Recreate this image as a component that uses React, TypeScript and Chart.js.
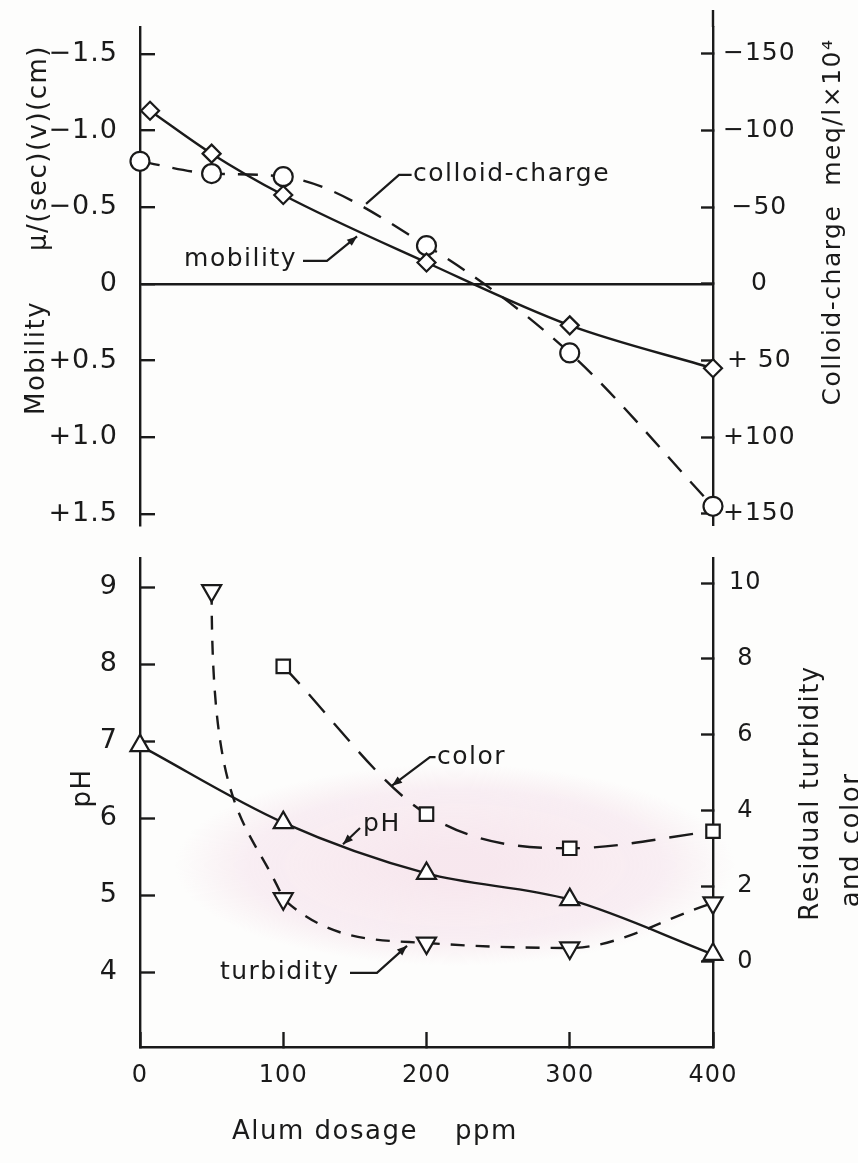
import React, { useEffect, useRef } from 'react';
import { Chart, registerables } from 'chart.js';

Chart.register(...registerables);

// ---------- data ----------
const mobilityDosage = [7, 50, 100, 200, 300, 400];
const mobilityValues = [-1.13, -0.85, -0.58, -0.14, 0.27, 0.55];
const chargeDosage = [0, 50, 100, 200, 300, 400];
const chargeValues = [-80, -72, -70, -25, 45, 145];

const phDosage = [0, 100, 200, 300, 400];
const phValues = [6.94, 5.94, 5.28, 4.94, 4.23];
const turbidityDosage = [50, 100, 200, 300, 400];
const turbidityValues = [9.8, 1.67, 0.5, 0.37, 1.56];
const colorDosage = [100, 200, 300, 400];
const colorValues = [7.8, 3.9, 3.0, 3.45];

const dosageTicks = [0, 100, 200, 300, 400];
const mobilityTicks = [-1.5, -1.0, -0.5, 0, 0.5, 1.0, 1.5];
const chargeTicks = [-150, -100, -50, 0, 50, 100, 150];
const phTicks = [4, 5, 6, 7, 8, 9];
const residualTicks = [0, 2, 4, 6, 8, 10];

// ---------- style ----------
const INK = '#1a1a1a';
const FONT = "'DejaVu Sans', 'Noto Sans', sans-serif";
const W = 858;
const TOP_H = 540;
const BOT_H = 623;
const LEFT_W = 140;
const RIGHT_W = 145;
const LW = 2.4;

const pts = (xs: number[], ys: number[]) => xs.map((x, i) => ({ x, y: ys[i] }));

const fmtMob = (v: number) => (v === 0 ? '0' : (v < 0 ? '\u2212' : '+') + Math.abs(v).toFixed(1));
const fmtCharge = (v: number) =>
  v === 0 ? '0' : v < 0 ? '\u2212' + Math.abs(v) : (v < 100 ? '+ ' : '+') + v;

type Note = {
  text: string;
  at: [number, number];
  align: 'left' | 'right';
  path: [number, number][];
  arrow: boolean;
};

// annotation anchors in data units (x: ppm, y: value on the panel's left scale)
const topNotes: Note[] = [
  { text: 'colloid-charge', at: [190.6, -0.711], align: 'left', path: [[189.6, -0.711], [180.8, -0.711], [157.8, -0.522]], arrow: false },
  { text: 'mobility', at: [109.6, -0.157], align: 'right', path: [[113.8, -0.15], [130.5, -0.15], [151.5, -0.31]], arrow: true },
];
const bottomNotes: Note[] = [
  { text: 'color', at: [207.3, 6.79], align: 'left', path: [[206.3, 6.79], [202.4, 6.79], [175.9, 6.42]], arrow: true },
  { text: 'pH', at: [155.7, 5.91], align: 'left', path: [[153.6, 5.87], [141.7, 5.66]], arrow: true },
  { text: 'turbidity', at: [55.8, 3.99], align: 'left', path: [[146.6, 3.99], [165.4, 3.99], [186.4, 4.34]], arrow: true },
];

function drawNotes(chart: any, yId: string, notes: Note[]) {
  const ctx = chart.ctx;
  const xs = chart.scales.x;
  const ys = chart.scales[yId];
  ctx.save();
  ctx.strokeStyle = INK;
  ctx.fillStyle = INK;
  ctx.lineWidth = 2.2;
  ctx.setLineDash([]);
  ctx.font = `25px ${FONT}`;
  ctx.letterSpacing = '1.5px';
  notes.forEach((n) => {
    const tx = xs.getPixelForValue(n.at[0]);
    const ty = ys.getPixelForValue(n.at[1]);
    ctx.textAlign = n.align;
    ctx.textBaseline = 'middle';
    ctx.fillText(n.text, tx, ty);
    const p = n.path.map(([a, b]) => [xs.getPixelForValue(a), ys.getPixelForValue(b)]);
    ctx.beginPath();
    p.forEach(([a, b], i) => (i ? ctx.lineTo(a, b) : ctx.moveTo(a, b)));
    ctx.stroke();
    if (n.arrow) {
      const [x1, y1] = p[p.length - 2];
      const [x2, y2] = p[p.length - 1];
      const ang = Math.atan2(y2 - y1, x2 - x1);
      const L = 10;
      const hw = 4;
      ctx.beginPath();
      ctx.moveTo(x2, y2);
      ctx.lineTo(x2 - L * Math.cos(ang) + hw * Math.sin(ang), y2 - L * Math.sin(ang) - hw * Math.cos(ang));
      ctx.lineTo(x2 - L * Math.cos(ang) - hw * Math.sin(ang), y2 - L * Math.sin(ang) + hw * Math.cos(ang));
      ctx.closePath();
      ctx.fill();
    }
  });
  ctx.restore();
}

function drawRotated(ctx: any, text: string, x: number, y: number, size: number) {
  ctx.save();
  ctx.translate(x, y);
  ctx.rotate(-Math.PI / 2);
  ctx.textAlign = 'center';
  ctx.textBaseline = 'alphabetic';
  ctx.font = `${size}px ${FONT}`;
  ctx.letterSpacing = '1.5px';
  ctx.fillStyle = INK;
  ctx.fillText(text, 0, 0);
  ctx.restore();
}

const spacingPlugin = {
  id: 'spacing',
  beforeDraw(chart: any) {
    chart.ctx.letterSpacing = '1px';
  },
  afterDraw(chart: any) {
    chart.ctx.letterSpacing = '0px';
  },
};

// hand-drawn look of the turbidity curve: leaves the first point vertically
const handCurvePlugin = {
  id: 'handCurve',
  beforeDatasetsDraw(chart: any) {
    const meta = chart.getDatasetMeta(1);
    const line = meta && meta.dataset;
    if (!line || !meta.data || meta.data.length < 2) return;
    line.updateControlPoints(chart.chartArea, 'x');
    const a = meta.data[0];
    const b = meta.data[1];
    const dx = b.x - a.x;
    const dy = b.y - a.y;
    a.cp2x = a.x;
    a.cp2y = a.y + 0.75 * dy;
    b.cp1x = b.x - 0.47 * dx;
    b.cp1y = b.y - 0.25 * dy;
    line._path = undefined;
  },
};

const yAxisBase = (width: number) => ({
  afterFit: (s: any) => {
    s.width = width;
    s.paddingTop = 0;
    s.paddingBottom = 0;
  },
  border: { display: true, color: INK, width: LW },
});

const marker = (style: string, radius: number, extra: any = {}) => ({
  pointStyle: style,
  pointRadius: radius,
  pointBorderWidth: 2.2,
  pointBackgroundColor: '#ffffff',
  pointBorderColor: INK,
  borderColor: INK,
  borderWidth: LW,
  clip: false,
  ...extra,
});

function topConfig(): any {
  return {
    type: 'line',
    data: {
      datasets: [
        {
          label: 'mobility',
          data: pts(mobilityDosage, mobilityValues),
          yAxisID: 'yMob',
          cubicInterpolationMode: 'monotone',
          ...marker('rectRot', 9),
        },
        {
          label: 'colloid-charge',
          data: pts(chargeDosage, chargeValues),
          yAxisID: 'yCol',
          borderDash: [20, 13],
          cubicInterpolationMode: 'monotone',
          ...marker('circle', 9.5),
        },
      ],
    },
    options: {
      responsive: false,
      animation: false,
      devicePixelRatio: 1,
      layout: { padding: { top: 27, bottom: 15, left: 0, right: 0 } },
      plugins: { legend: { display: false }, tooltip: { enabled: false } },
      scales: {
        x: { type: 'linear', min: 0, max: 400, display: false },
        yMob: {
          ...yAxisBase(LEFT_W),
          type: 'linear',
          position: 'left',
          reverse: true,
          min: -1.676,
          max: 1.572,
          afterBuildTicks: (s: any) => {
            s.ticks = mobilityTicks.map((v) => ({ value: v }));
          },
          grid: {
            drawOnChartArea: true,
            color: (c: any) => (c.tick && c.tick.value === 0 ? INK : 'rgba(0,0,0,0)'),
            lineWidth: LW,
            tickLength: -15,
            tickColor: INK,
            tickWidth: LW,
          },
          ticks: {
            padding: 37,
            color: INK,
            font: { family: FONT, size: 27 },
            callback: (v: any) => fmtMob(Number(v)),
          },
        },
        yCol: {
          ...yAxisBase(RIGHT_W),
          type: 'linear',
          position: 'right',
          reverse: true,
          min: -167.6,
          max: 157.2,
          afterBuildTicks: (s: any) => {
            s.ticks = chargeTicks.map((v) => ({ value: v }));
          },
          grid: { drawOnChartArea: false, tickLength: -12, tickColor: INK, tickWidth: LW },
          ticks: {
            padding: 24,
            crossAlign: 'center',
            color: INK,
            font: { family: FONT, size: 25 },
            callback: (v: any) => fmtCharge(Number(v)),
          },
        },
      },
    },
    plugins: [
      spacingPlugin,
      {
        id: 'topDecor',
        afterDraw(chart: any) {
          const ctx = chart.ctx;
          const { right, top } = chart.chartArea;
          ctx.save();
          ctx.strokeStyle = INK;
          ctx.lineWidth = LW;
          ctx.beginPath();
          ctx.moveTo(right, 10);
          ctx.lineTo(right, top);
          ctx.stroke();
          ctx.restore();
          drawRotated(ctx, '\u03bc/(sec)(v)(cm)', 46, 148, 26);
          drawRotated(ctx, 'Mobility', 44, 358, 26);
          drawRotated(ctx, 'Colloid-charge  meq/l\u00d710\u2074', 840, 222, 25);
          drawNotes(chart, 'yMob', topNotes);
        },
      },
    ],
  };
}

function bottomConfig(): any {
  return {
    type: 'line',
    data: {
      datasets: [
        {
          label: 'pH',
          data: pts(phDosage, phValues),
          yAxisID: 'yPH',
          cubicInterpolationMode: 'monotone',
          ...marker('triangle', 11),
        },
        {
          label: 'turbidity',
          data: pts(turbidityDosage, turbidityValues),
          yAxisID: 'yRes',
          borderDash: [14, 11],
          cubicInterpolationMode: 'monotone',
          ...marker('triangle', 11, { pointRotation: 180 }),
        },
        {
          label: 'color',
          data: pts(colorDosage, colorValues),
          yAxisID: 'yRes',
          borderDash: [24, 14],
          cubicInterpolationMode: 'monotone',
          ...marker('rect', 9.5),
        },
      ],
    },
    options: {
      responsive: false,
      animation: false,
      devicePixelRatio: 1,
      layout: { padding: { top: 18, bottom: 0, left: 0, right: 0 } },
      plugins: { legend: { display: false }, tooltip: { enabled: false } },
      scales: {
        x: {
          type: 'linear',
          position: 'bottom',
          min: 0,
          max: 400,
          afterBuildTicks: (s: any) => {
            s.ticks = dosageTicks.map((v) => ({ value: v }));
          },
          afterFit: (s: any) => {
            s.height = 116;
            s.paddingLeft = 0;
            s.paddingRight = 0;
          },
          border: { display: true, color: INK, width: LW },
          grid: { drawOnChartArea: false, tickLength: -15, tickColor: INK, tickWidth: LW },
          ticks: {
            padding: 29,
            color: INK,
            maxRotation: 0,
            autoSkip: false,
            font: { family: FONT, size: 24 },
            callback: (v: any) => String(v),
          },
        },
        yPH: {
          ...yAxisBase(LEFT_W),
          type: 'linear',
          position: 'left',
          min: 3.026,
          max: 9.377,
          afterBuildTicks: (s: any) => {
            s.ticks = phTicks.map((v) => ({ value: v }));
          },
          grid: { drawOnChartArea: false, tickLength: -15, tickColor: INK, tickWidth: LW },
          ticks: {
            padding: 37,
            color: INK,
            font: { family: FONT, size: 27 },
            callback: (v: any) => String(v),
          },
        },
        yRes: {
          ...yAxisBase(RIGHT_W),
          type: 'linear',
          position: 'right',
          min: -2.243,
          max: 10.66,
          afterBuildTicks: (s: any) => {
            s.ticks = residualTicks.map((v) => ({ value: v }));
          },
          grid: { drawOnChartArea: false, tickLength: -12, tickColor: INK, tickWidth: LW },
          ticks: {
            padding: 29,
            crossAlign: 'center',
            color: INK,
            font: { family: FONT, size: 24 },
            callback: (v: any) => String(v),
          },
        },
      },
    },
    plugins: [
      spacingPlugin,
      handCurvePlugin,
      {
        id: 'bottomWash',
        beforeDraw(chart: any) {
          // faint pink tint of the scanned page watermark
          const ctx = chart.ctx;
          ctx.save();
          ctx.translate(455, 325);
          ctx.scale(1, 0.36);
          const g = ctx.createRadialGradient(0, 0, 40, 0, 0, 280);
          g.addColorStop(0, 'rgba(240, 205, 222, 0.45)');
          g.addColorStop(0.7, 'rgba(240, 205, 222, 0.30)');
          g.addColorStop(1, 'rgba(240, 205, 222, 0)');
          ctx.fillStyle = g;
          ctx.beginPath();
          ctx.arc(0, 0, 280, 0, Math.PI * 2);
          ctx.fill();
          ctx.restore();
        },
      },
      {
        id: 'bottomDecor',
        afterDraw(chart: any) {
          const ctx = chart.ctx;
          drawRotated(ctx, 'pH', 90, 248, 26);
          drawRotated(ctx, 'Residual turbidity', 818, 253, 26);
          drawRotated(ctx, 'and color', 859, 300, 26);
          ctx.save();
          ctx.fillStyle = INK;
          ctx.font = `26px ${FONT}`;
          ctx.letterSpacing = '1.5px';
          ctx.textAlign = 'left';
          ctx.textBaseline = 'alphabetic';
          ctx.fillText('Alum dosage', 232, 599);
          ctx.fillText('ppm', 455, 599);
          ctx.restore();
          drawNotes(chart, 'yPH', bottomNotes);
        },
      },
    ],
  };
}

export default function App() {
  const topRef = useRef<HTMLCanvasElement>(null);
  const botRef = useRef<HTMLCanvasElement>(null);

  useEffect(() => {
    document.body.style.margin = '0';
    const top = new Chart(topRef.current as HTMLCanvasElement, topConfig());
    const bot = new Chart(botRef.current as HTMLCanvasElement, bottomConfig());
    return () => {
      top.destroy();
      bot.destroy();
    };
  }, []);

  return (
    <div style={{ position: 'relative', width: W, height: TOP_H + BOT_H, background: '#fdfdfc', overflow: 'hidden' }}>
      <canvas
        ref={topRef}
        width={W}
        height={TOP_H}
        style={{ position: 'absolute', left: 0, top: 0, width: W, height: TOP_H }}
      />
      <canvas
        ref={botRef}
        width={W}
        height={BOT_H}
        style={{ position: 'absolute', left: 0, top: TOP_H, width: W, height: BOT_H }}
      />
    </div>
  );
}
